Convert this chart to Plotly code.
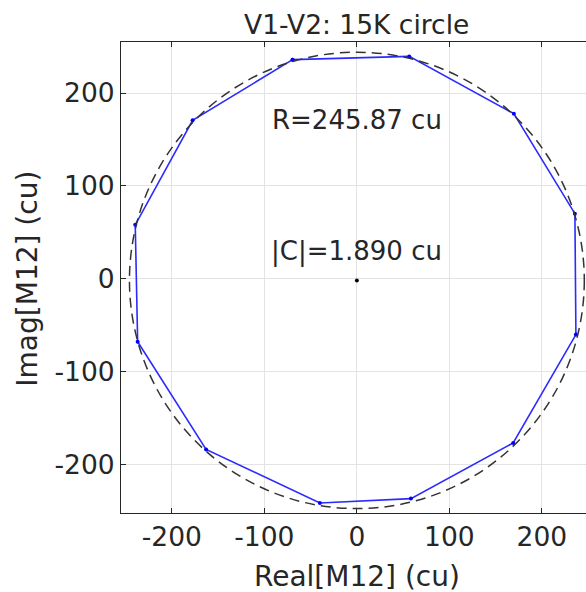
import plotly.graph_objects as go

# polygon vertices (closed)
pts_x = [-69.5, 56.6, 169.7, 235.7, 236.8, 169.0, 58.4, -40.0, -163.0, -237.0, -239.6, -177.6]
pts_y = [236.0, 239.5, 177.8, 70.0, -60.3, -177.0, -237.0, -241.7, -184.0, -68.0, 58.0, 170.6]

radius = 245.87
center_x = 0.0
center_y = -1.89

tick_vals = [-200, -100, 0, 100, 200]
tick_text = ["-200", "-100", "0", "100", "200"]

title_text = "V1-V2: 15K circle"
xlabel = "Real[M12] (cu)"
ylabel = "Imag[M12] (cu)"
r_text = "R=245.87 cu"
c_text = "|C|=1.890 cu"

FONT = "DejaVu Sans"
TXT = "#262626"
PH = 471.0
PW = 465.0

fig = go.Figure()
fig.add_shape(type="circle", xref="x", yref="y",
              x0=center_x - radius, x1=center_x + radius,
              y0=center_y - radius, y1=center_y + radius,
              line=dict(color="#333333", width=1.5, dash="10px,6px"))
fig.add_trace(go.Scatter(x=pts_x + pts_x[:1], y=pts_y + pts_y[:1], mode="lines+markers",
                         line=dict(color="#2b2bff", width=1.6),
                         marker=dict(color="#0000ff", size=4), showlegend=False))
fig.add_trace(go.Scatter(x=[center_x], y=[center_y], mode="markers",
                         marker=dict(color="black", size=4), showlegend=False))

fig.add_annotation(x=0, y=170.6, xref="x", yref="y", text=r_text, showarrow=False,
                   font=dict(family=FONT, size=26, color=TXT))
fig.add_annotation(x=0, y=29.4, xref="x", yref="y", text=c_text, showarrow=False,
                   font=dict(family=FONT, size=26, color=TXT))
fig.add_annotation(x=0, xref="x", y=1 + (42 - 24) / PH, yref="paper", yanchor="middle",
                   text=title_text, showarrow=False,
                   font=dict(family=FONT, size=26.5, color=TXT))
fig.add_annotation(x=0, xref="x", y=-(576 - 513) / PH, yref="paper",
                   yanchor="middle", text=xlabel, showarrow=False,
                   font=dict(family=FONT, size=28, color=TXT))
fig.add_annotation(x=-(121 - 28) / PW, xref="paper", y=0, yref="y", textangle=-90,
                   xanchor="center", yanchor="middle", text=ylabel, showarrow=False,
                   font=dict(family=FONT, size=28, color=TXT))

axis_common = dict(showgrid=True, gridcolor="#e3e3e3", gridwidth=1, zeroline=False,
                   showline=True, linecolor="#262626", linewidth=1,
                   ticks="inside", ticklen=5, tickcolor="#262626", automargin=False,
                   tickvals=tick_vals, ticktext=tick_text,
                   tickfont=dict(family=FONT, size=26.5, color=TXT))
fig.update_xaxes(range=[-255, 247.7], mirror="ticks", **axis_common)
fig.update_yaxes(range=[-252.5, 255], mirror=False, **axis_common)

fig.update_layout(width=586, height=592, margin=dict(l=121, r=0, t=42, b=79),
                  paper_bgcolor="white", plot_bgcolor="white", showlegend=False)
fig.write_html("out.html", post_script="document.body.style.margin='0';",
               config={"displayModeBar": False})
